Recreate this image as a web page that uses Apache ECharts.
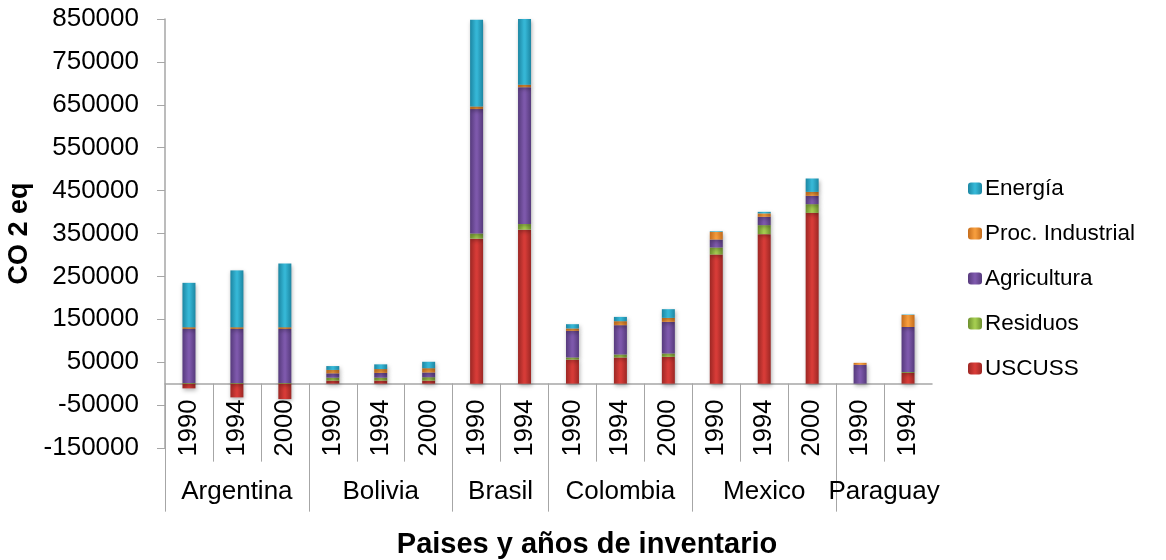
<!DOCTYPE html>
<html>
<head>
<meta charset="utf-8">
<title>CO2 eq por país</title>
<script src="https://cdn.jsdelivr.net/npm/echarts@6/dist/echarts.min.js"></script>
<style>
  html, body { margin: 0; padding: 0; background: #fff; }
  #chart { width: 1166px; height: 560px; }
</style>
</head>
<body>
<div id="chart"></div>
<script>
// Inventory years, one bar each, grouped by country
const years = ['1990','1994','2000','1990','1994','2000','1990','1994','1990','1994','2000','1990','1994','2000','1990','1994'];
const countries = ['Argentina','Bolivia','Brasil','Colombia','Mexico','Paraguay'];
const countrySpans = [3, 3, 2, 3, 3, 2];
const yTicks = [-150000, -50000, 50000, 150000, 250000, 350000, 450000, 550000, 650000, 750000, 850000];

// Emissions by sector (CO2 eq)
const uscuss    = [-11000, -32000, -36000, 7000, 7000, 7000, 338000, 359000, 56000, 61000, 62500, 301000, 348500, 398100, 0, 25000];
const residuos  = [1500, 1500, 1500, 7000, 7000, 8000, 12000, 13000, 5000, 7000, 7800, 16300, 21000, 20300, 0, 2000];
const agricultura = [126000, 126000, 126000, 10000, 11000, 11000, 290000, 319000, 62000, 68300, 73700, 18600, 19400, 19300, 43800, 105000];
const procIndustrial = [4000, 4000, 4000, 8000, 9000, 10000, 6000, 6000, 5600, 9300, 9300, 17700, 7900, 9300, 4700, 28000];
const energia   = [103500, 132500, 148500, 9000, 11000, 15000, 202000, 230000, 10000, 10000, 20300, 1500, 3700, 31200, 0, 1000];

const Y_MIN = -150000;
const Y_MAX = 850000;

// Group boundaries and centres along the category axis (in category units)
const bounds = [0];
const centres = [];
countrySpans.forEach(function (s, i) {
  const start = bounds[i];
  bounds.push(start + s);
  centres.push(start + s / 2);
});
const yearBounds = [];
for (let i = 0; i < years.length; i++) yearBounds.push(i);

const FONT = '"Liberation Sans", Arial, sans-serif';
const AXIS_GREY = '#a6a6a6';

const GRID_TOP = 19;
const GRID_BOTTOM_Y = 448;
// distance from the grid's bottom edge up to the zero line
const zeroOffset = -(GRID_BOTTOM_Y - GRID_TOP) * (0 - Y_MIN) / (Y_MAX - Y_MIN);

function bevel(edge, mid) {
  return new echarts.graphic.LinearGradient(0, 0, 1, 0, [
    { offset: 0, color: edge },
    { offset: 0.45, color: mid },
    { offset: 0.55, color: mid },
    { offset: 1, color: edge }
  ]);
}

const sectors = [
  { name: 'USCUSS', data: uscuss, edge: '#9c2724', mid: '#d63b37' },
  { name: 'Residuos', data: residuos, edge: '#6c8f2e', mid: '#a3cb4f' },
  { name: 'Agricultura', data: agricultura, edge: '#563a7c', mid: '#7d58ab' },
  { name: 'Proc. Industrial', data: procIndustrial, edge: '#c46c1c', mid: '#f59c3c' },
  { name: 'Energía', data: energia, edge: '#1c86a2', mid: '#35b6d5' }
];

const series = sectors.map(function (s) {
  return {
    name: s.name,
    type: 'bar',
    stack: 'total',
    xAxisIndex: 0,
    barWidth: 13,
    data: s.data,
    itemStyle: {
      color: bevel(s.edge, s.mid),
      shadowColor: 'rgba(0,0,0,0.3)',
      shadowBlur: 4,
      shadowOffsetX: 1,
      shadowOffsetY: 2
    },
    emphasis: { disabled: true }
  };
});

const chart = echarts.init(document.getElementById('chart'), null, { renderer: 'canvas' });
chart.setOption({
  animation: false,
  backgroundColor: '#ffffff',
  grid: { left: 165, right: 234, top: GRID_TOP, bottom: 560 - GRID_BOTTOM_Y, containLabel: false, outerBoundsMode: 'none' },
  title: {
    text: 'Paises y años de inventario',
    left: 582,
    top: 525,
    textAlign: 'center',
    textStyle: { fontFamily: FONT, fontSize: 29, fontWeight: 'bold', color: '#000' }
  },
  legend: {
    orient: 'vertical',
    left: 963,
    top: 172,
    itemWidth: 14,
    itemHeight: 12,
    itemGap: 22,
    data: ['Energía', 'Proc. Industrial', 'Agricultura', 'Residuos', 'USCUSS'],
    textStyle: { fontFamily: FONT, fontSize: 22.5, color: '#000', padding: [0, 0, 0, -2] }
  },
  xAxis: [
    {
      // inventory years along the zero line
      type: 'category',
      data: years,
      position: 'bottom',
      offset: zeroOffset,
      axisLine: { show: true, onZero: false, lineStyle: { color: AXIS_GREY, width: 1.5 } },
      axisTick: { show: false },
      axisLabel: {
        interval: 0,
        rotate: 90,
        margin: 16,
        fontFamily: FONT,
        fontSize: 25.5,
        color: '#000'
      }
    },
    {
      // separators between inventory years
      type: 'value',
      position: 'bottom',
      offset: zeroOffset,
      min: 0,
      max: years.length,
      axisLine: { show: false, onZero: false },
      axisLabel: { show: false },
      splitLine: { show: false },
      axisTick: {
        show: true,
        length: 78,
        customValues: yearBounds,
        lineStyle: { color: AXIS_GREY, width: 1 }
      }
    },
    {
      // country groups: separators and names
      type: 'value',
      position: 'bottom',
      offset: zeroOffset,
      min: 0,
      max: years.length,
      axisLine: { show: false, onZero: false },
      splitLine: { show: false },
      axisTick: {
        show: true,
        length: 128,
        customValues: bounds.slice(0, bounds.length - 1),
        lineStyle: { color: AXIS_GREY, width: 1 }
      },
      axisLabel: {
        show: true,
        customValues: centres,
        margin: 95,
        fontFamily: FONT,
        fontSize: 26,
        color: '#000',
        formatter: function (v) {
          const i = centres.indexOf(v);
          return i >= 0 ? countries[i] : '';
        }
      }
    }
  ],
  yAxis: {
    type: 'value',
    min: Y_MIN,
    max: Y_MAX,
    interval: 100000,
    name: 'CO 2 eq',
    nameLocation: 'middle',
    nameGap: 128,
    nameTextStyle: { fontFamily: FONT, fontSize: 27, fontWeight: 'bold', color: '#000' },
    axisLine: { show: true, onZero: false, lineStyle: { color: AXIS_GREY, width: 1.5 } },
    axisTick: { show: true, length: 8, lineStyle: { color: AXIS_GREY } },
    splitLine: { show: false },
    axisLabel: {
      margin: 26,
      fontFamily: FONT,
      fontSize: 26,
      color: '#000',
      customValues: yTicks,
      formatter: function (v) { return String(v); }
    }
  },
  series: series
});
</script>
</body>
</html>
